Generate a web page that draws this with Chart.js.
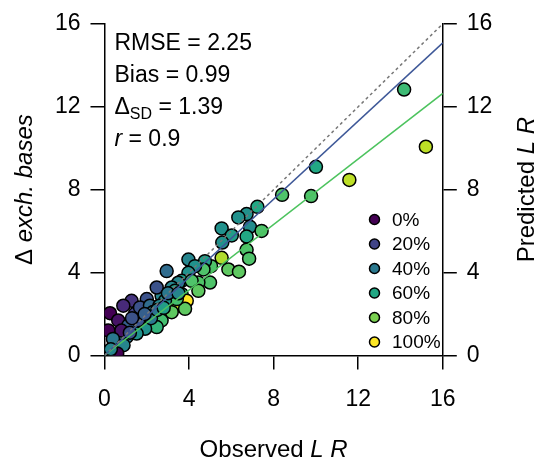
<!DOCTYPE html>
<html>
<head>
<meta charset="utf-8">
<script src="https://cdn.jsdelivr.net/npm/chart.js@4"></script>
<style>
  html, body { margin: 0; padding: 0; background: #ffffff; }
  canvas { display: block; }
</style>
</head>
<body>
<canvas id="lrChart" width="539" height="464"></canvas>
<script>
// observed LR vs delta exch. bases, fill = % class
const obsLR = [14.17, 15.2, 11.58, 10.0, 9.77, 8.4,
    7.23, 6.72, 6.33, 6.88, 7.43, 5.54, 6.02, 5.57, 6.72, 6.72, 6.84, 5.54, 5.86, 6.36,
    5.04, 4.75, 4.68, 4.99, 4.44, 3.97, 4.28, 3.97, 3.65, 4.12, 4.44, 2.94, 3.49, 3.18,
    3.65, 3.89, 3.33, 3.81, 2.94, 2.7, 2.47, 2.0, 1.28, 0.89, 0.26, 0.18, 0.65, 1.44,
    1.68, 2.15, 1.6, 1.13, 1.05, 0.58, 0.58, 0.42, 2.07, 2.39, 2.7, 2.47, 1.92, 1.52,
    3.18, 3.42, 2.86, 3.33, 0.8, 0.4, 0.9, 1.2, 0.6, 1.6, 2.3, 2.6, 3.0, 2.2, 0.3,
    1.9, 2.5, 1.3, 2.8, 3.5];
const deltaExch = [12.83, 10.07, 8.47, 9.1, 7.69, 7.75,
    7.17, 6.82, 6.66, 6.21, 6.01, 6.13, 5.79, 5.45, 5.74, 5.1, 4.67, 4.71, 4.15, 4.04,
    4.31, 4.55, 4.15, 3.52, 3.52, 4.63, 4.31, 3.99, 3.6, 3.6, 3.12, 4.07, 3.51, 3.28,
    2.96, 2.64, 2.4, 2.25, 2.25, 2.88, 3.28, 2.72, 2.64, 2.4, 2.04, 1.21, 1.69, 2.01,
    2.32, 2.4, 1.37, 1.45, 0.9, 0.74, 0.26, 0.42, 1.69, 2.01, 1.69, 1.37, 1.29, 1.06,
    2.09, 2.72, 2.64, 3.12, 1.2, 0.8, 0.5, 1.1, 0.1, 1.7, 2.1, 2.4, 3.0, 1.8, 0.3,
    2.0, 2.2, 1.8, 2.3, 3.0];
const fillPct = [68, 90, 90, 60, 72, 72,
    60, 50, 50, 48, 72, 50, 55, 50, 60, 72, 72, 88, 75, 75,
    72, 55, 72, 72, 72, 45, 50, 50, 55, 72, 75, 35, 45, 45,
    65, 100, 95, 75, 85, 45, 25, 25, 15, 12, 0, 0, 5, 20,
    25, 35, 40, 30, 40, 45, 5, 10, 45, 70, 70, 65, 50, 50,
    75, 70, 50, 55, 5, 40, 45, 25, 0, 25, 40, 45, 40, 40, 45,
    30, 40, 25, 55, 45];

// fitted lines (start / end)
const lineX = [0, 16];
const oneToOne = [0, 16];
const fitBlue = [0, 15.08];
const fitGreen = [0, 12.64];

const legendLabels = ['0%', '20%', '40%', '60%', '80%', '100%'];
const legendPct = [0, 20, 40, 60, 80, 100];
const axisTicks = [0, 4, 8, 12, 16];

const stats = { rmse: '2.25', bias: '0.99', dsd: '1.39', r: '0.9' };

// viridis stops
const viridis = ['#440154', '#482475', '#414487', '#355f8d', '#2a788e', '#21918c',
    '#22a884', '#44bf70', '#7ad151', '#bddf26', '#fde725'];

function hexToRgb(h) {
    return [parseInt(h.slice(1, 3), 16), parseInt(h.slice(3, 5), 16), parseInt(h.slice(5, 7), 16)];
}

function viridisColor(pct) {
    const t = Math.max(0, Math.min(1, pct / 100)) * (viridis.length - 1);
    const i = Math.min(Math.floor(t), viridis.length - 2);
    const f = t - i;
    const a = hexToRgb(viridis[i]);
    const b = hexToRgb(viridis[i + 1]);
    const c = a.map((v, k) => Math.round(v + (b[k] - v) * f));
    return `rgb(${c[0]}, ${c[1]}, ${c[2]})`;
}

const FONT = "'Liberation Sans', Arial, sans-serif";

const points = obsLR.map((x, i) => ({ x: x, y: deltaExch[i] }));
const pointColors = fillPct.map(viridisColor);

function linePts(ys) {
    return lineX.map((x, i) => ({ x: x, y: ys[i] }));
}

function drawMixed(ctx, parts, cx, y, size) {
    let total = 0;
    parts.forEach(p => {
        ctx.font = `${p[1] ? 'italic ' : ''}${size}px ${FONT}`;
        total += ctx.measureText(p[0]).width;
    });
    let x = cx - total / 2;
    ctx.textAlign = 'left';
    parts.forEach(p => {
        ctx.font = `${p[1] ? 'italic ' : ''}${size}px ${FONT}`;
        ctx.fillText(p[0], x, y);
        x += ctx.measureText(p[0]).width;
    });
}

// draws stats text, legend and axis titles
const annotations = {
    id: 'annotations',
    afterDraw(chart) {
        const ctx = chart.ctx;
        const area = chart.chartArea;
        ctx.save();
        ctx.fillStyle = '#000';
        ctx.textBaseline = 'alphabetic';
        ctx.textAlign = 'left';

        const tx = area.left + 10;
        const big = `23px ${FONT}`;
        ctx.font = big;
        ctx.fillText('RMSE = ' + stats.rmse, tx, 49.5);
        ctx.fillText('Bias = ' + stats.bias, tx, 81.5);

        // delta SD
        let x = tx;
        ctx.fillText('\u0394', x, 113.5);
        x += ctx.measureText('\u0394').width;
        ctx.font = `16px ${FONT}`;
        ctx.fillText('SD', x, 119);
        x += ctx.measureText('SD').width;
        ctx.font = big;
        ctx.fillText(' = ' + stats.dsd, x, 113.5);

        // r
        ctx.font = `italic 23px ${FONT}`;
        ctx.fillText('r', tx, 145.5);
        x = tx + ctx.measureText('r').width;
        ctx.font = big;
        ctx.fillText(' = ' + stats.r, x, 145.5);

        // legend
        ctx.font = `19px ${FONT}`;
        ctx.textBaseline = 'middle';
        legendLabels.forEach((lab, i) => {
            const y = 219.5 + i * 24.5;
            ctx.beginPath();
            ctx.arc(374.5, y, 5, 0, Math.PI * 2);
            ctx.fillStyle = viridisColor(legendPct[i]);
            ctx.fill();
            ctx.lineWidth = 1.5;
            ctx.strokeStyle = '#000';
            ctx.stroke();
            ctx.fillStyle = '#000';
            ctx.fillText(lab, 392, y + 1);
        });

        // bottom title
        ctx.textBaseline = 'alphabetic';
        const cx = (area.left + area.right) / 2;
        drawMixed(ctx, [['Observed ', false], ['L', true], [' ', false], ['R', true]], cx, 457, 24);

        // left title
        const cy = (area.top + area.bottom) / 2;
        ctx.save();
        ctx.translate(32, cy);
        ctx.rotate(-Math.PI / 2);
        drawMixed(ctx, [['\u0394 ', false], ['exch. bases', true]], 0, 0, 24);
        ctx.restore();

        // right title
        ctx.save();
        ctx.translate(534, cy);
        ctx.rotate(-Math.PI / 2);
        drawMixed(ctx, [['Predicted ', false], ['L', true], [' ', false], ['R', true]], 0, 0, 24);
        ctx.restore();

        ctx.restore();
    }
};

const tickOpts = {
    color: '#000',
    font: { family: FONT, size: 23 },
    autoSkip: false
};

function axisGrid() {
    return { drawOnChartArea: false, drawTicks: true, tickLength: 14, tickColor: '#000', lineWidth: 1.5 };
}

const axisBorder = { display: true, color: '#000', width: 1.5 };

new Chart(document.getElementById('lrChart'), {
    type: 'scatter',
    data: {
        datasets: [
            {
                type: 'line', data: linePts(oneToOne), borderColor: '#777777',
                borderWidth: 1.5, borderDash: [3, 3], pointRadius: 0, fill: false
            },
            {
                type: 'line', data: linePts(fitBlue), borderColor: '#3e5898',
                borderWidth: 1.5, pointRadius: 0, fill: false
            },
            {
                type: 'line', data: linePts(fitGreen), borderColor: '#4cc35e',
                borderWidth: 1.5, pointRadius: 0, fill: false
            },
            {
                data: points,
                backgroundColor: pointColors,
                borderColor: '#000',
                borderWidth: 1.5,
                pointRadius: 6.5
            }
        ]
    },
    options: {
        responsive: false,
        animation: false,
        events: [],
        layout: { padding: { top: 19.6, left: 0, right: 0, bottom: 0 } },
        plugins: { legend: { display: false }, tooltip: { enabled: false } },
        scales: {
            x: {
                type: 'linear', min: 0, max: 16,
                afterBuildTicks: s => { s.ticks = axisTicks.map(v => ({ value: v })); },
                afterFit: s => { s.height = 108.5; },
                ticks: Object.assign({ padding: 16, maxRotation: 0 }, tickOpts),
                grid: axisGrid(),
                border: axisBorder
            },
            y: {
                type: 'linear', position: 'left', min: 0, max: 16,
                afterBuildTicks: s => { s.ticks = axisTicks.map(v => ({ value: v })); },
                afterFit: s => { s.width = 104.5; },
                ticks: Object.assign({ padding: 10 }, tickOpts),
                grid: axisGrid(),
                border: axisBorder
            },
            y2: {
                type: 'linear', position: 'right', min: 0, max: 16,
                afterBuildTicks: s => { s.ticks = axisTicks.map(v => ({ value: v })); },
                afterFit: s => { s.width = 96.2; },
                ticks: Object.assign({ padding: 10 }, tickOpts),
                grid: axisGrid(),
                border: axisBorder
            }
        }
    },
    plugins: [annotations]
});
</script>
</body>
</html>
